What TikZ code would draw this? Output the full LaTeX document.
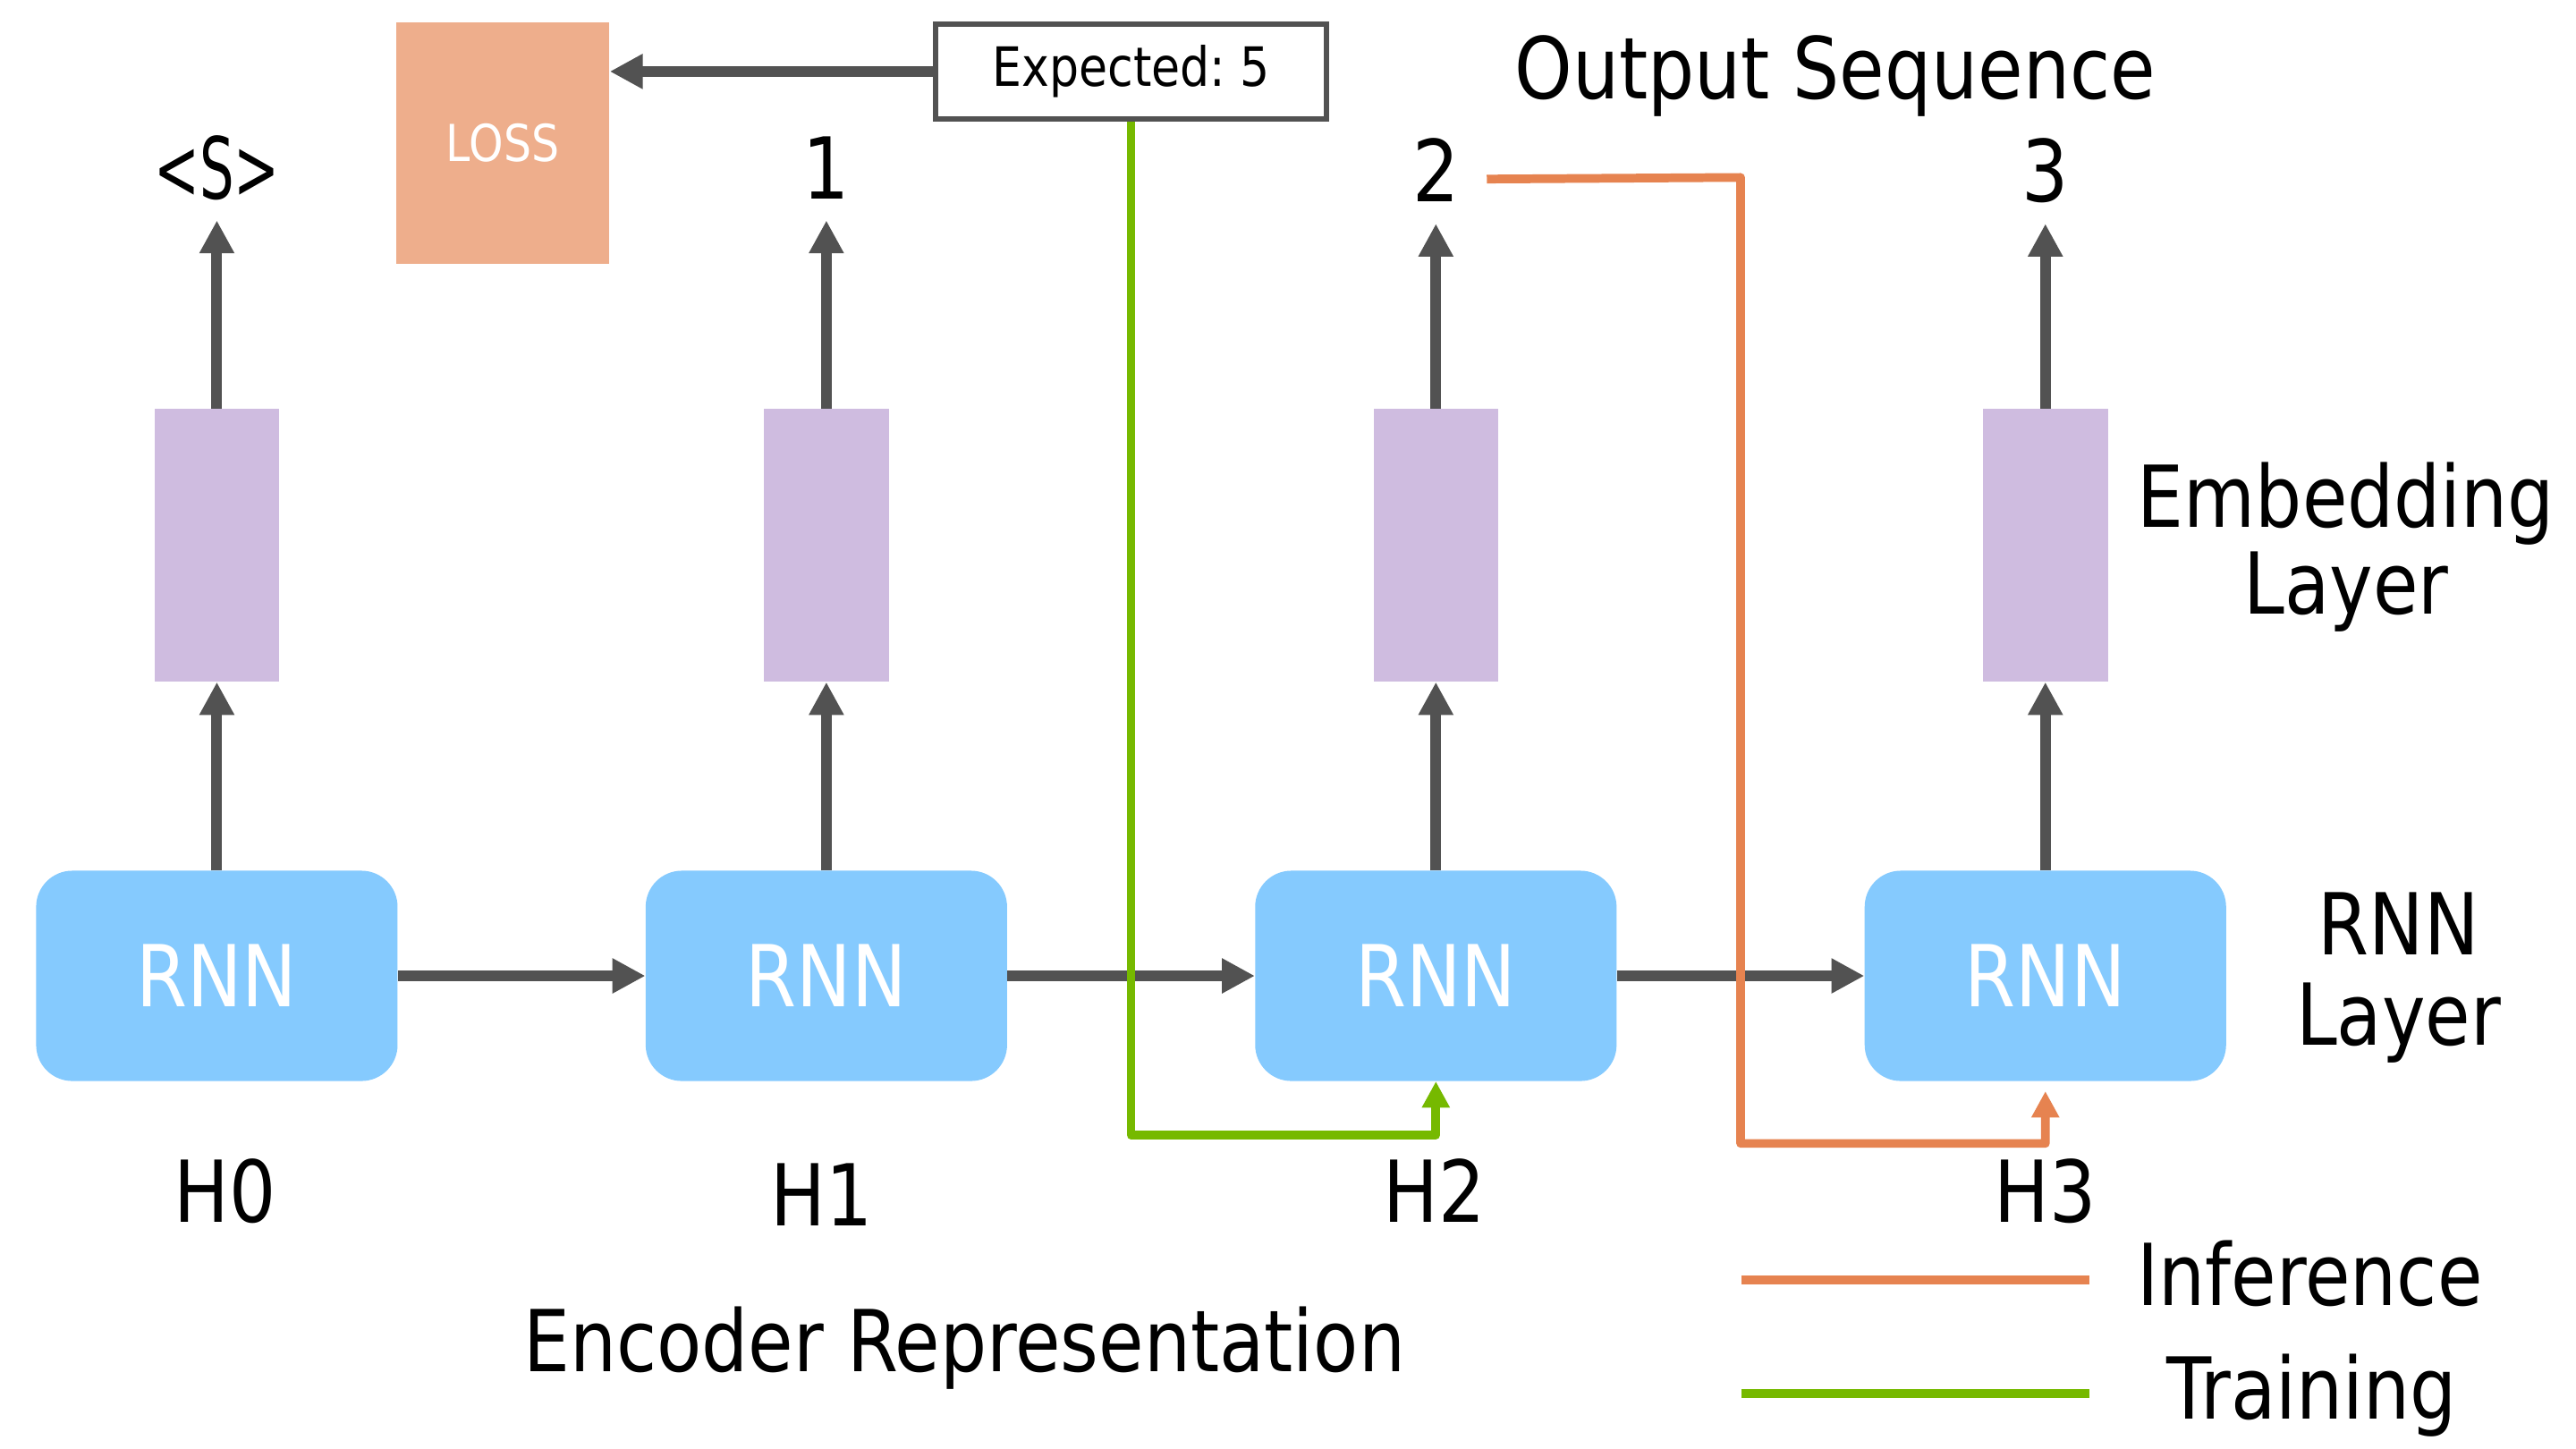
\documentclass[tikz,border=0pt]{standalone}
\usepackage{fontspec}
\setmainfont{DejaVu Sans}[FakeStretch=0.86]
\usetikzlibrary{arrows.meta}
\definecolor{rnnblue}{HTML}{85CAFE}
\definecolor{embpurple}{HTML}{CFBCE0}
\definecolor{losscol}{HTML}{EEAE8C}
\definecolor{darkgray}{HTML}{525252}
\definecolor{nvgreen}{HTML}{76B900}
\definecolor{infor}{HTML}{E68350}
\tikzset{
  rnnbox/.style={rectangle, rounded corners=22pt, fill=rnnblue, draw=none,
    minimum width=220pt, minimum height=128pt, inner sep=0pt,
    text=white, font=\fontsize{52}{60}\selectfont},
  embbox/.style={rectangle, fill=embpurple, draw=none, minimum width=76pt,
    minimum height=166pt, inner sep=0pt},
  biglabel/.style={font=\fontsize{52}{60}\selectfont, inner sep=0pt, anchor=base, text depth=0pt},
  outlabel/.style={font=\fontsize{52}{60}\selectfont, inner xsep=0pt, inner ysep=13pt, anchor=base, text depth=0pt},
  grayarrow/.style={draw=darkgray, line width=6.5pt, -{Triangle[length=20pt,width=20pt]}},
  greenline/.style={draw=nvgreen, line width=5.3pt, line join=round},
  orangeline/.style={draw=infor, line width=5.3pt, line join=round},
  smalltip/.style={-{Triangle[length=16pt,width=16pt]}},
}
\begin{document}
\begin{tikzpicture}[x=1pt, y=-1pt]
\useasboundingbox[fill=white] (0,0) rectangle (1568,882);

% RNN boxes
\node[rnnbox] (r0) at (132,594) {RNN};
\node[rnnbox] (r1) at (503,594) {RNN};
\node[rnnbox] (r2) at (874,594) {RNN};
\node[rnnbox] (r3) at (1245,594) {RNN};

% Embedding boxes
\node[embbox] (e0) at (132,332) {};
\node[embbox] (e1) at (503,332) {};
\node[embbox] (e2) at (874,332) {};
\node[embbox] (e3) at (1245,332) {};

% output labels
\node[outlabel] (o0) at (132,121) {\scalebox{0.74}[1]{<S>}};
\node[outlabel] (o1) at (503,121) {1};
\node[outlabel] (o2) at (874,123) {2};
\node[outlabel] (o3) at (1245,123) {3};

% hidden labels
\node[biglabel] (h0) at (137,744) {H0};
\node[biglabel] (h1) at (500,746) {H1};
\node[biglabel] (h2) at (873,744) {H2};
\node[biglabel] (h3) at (1245,744) {H3};

% Loss and expected
\node[rectangle, fill=losscol, minimum width=130pt, minimum height=147pt, inner sep=0pt,
  text=white, font=\fontsize{31}{36}\selectfont] (loss) at (306,87) {LOSS};
\node[rectangle, draw=darkgray, line width=3.3pt, fill=white, minimum width=238pt,
  minimum height=58pt, inner sep=0pt, font=\fontsize{33}{38}\selectfont] (exp) at (688.5,43.5) {Expected:\kern-0.1em{} 5};

% side labels
\node[biglabel] (outseq) at (1117,60) {Output Sequence};
\node[biglabel] (emb1) at (1428,321) {Embedding};
\node[biglabel] (emb2) at (1428,374) {Layer};
\node[biglabel] (rnnl1) at (1460,581) {RNN};
\node[biglabel] (rnnl2) at (1460,636) {Layer};
\node[biglabel] (encrep) at (587,835) {Encoder Representation};

% vertical arrows
\foreach \i in {0,1,2,3} {
  \draw[grayarrow] (r\i.north) -- (e\i.south);
  \draw[grayarrow] (e\i.north) -- (o\i.south);
}
% horizontal arrows
\draw[grayarrow] (r0.east) -- (r1.west);
\draw[grayarrow] (r1.east) -- (r2.west);
\draw[grayarrow] (r2.east) -- (r3.west);

% expected -> loss
\draw[grayarrow] (exp.west) -- (exp.west -| loss.east);

% training path
\coordinate (gcorner) at (688.5,691);
\draw[greenline, smalltip] (exp.south) -- (gcorner) -| (r2.south);

% inference path
\coordinate (ostart) at (905,109);
\coordinate (otop) at (1059.5,108);
\coordinate (obot) at (1059.5,696);
\draw[orangeline, smalltip, shorten >=6pt] (ostart) -- (otop) -- (obot) -| (r3.south);

% legend
\coordinate (li1) at (1060,779);
\coordinate (li2) at (1272,779);
\coordinate (lg1) at (1060,848);
\coordinate (lg2) at (1272,848);
\draw[infor, line width=5.4pt] (li1) -- (li2);
\draw[nvgreen, line width=5.4pt] (lg1) -- (lg2);
\node[biglabel] (linf) at (1406,794.5) {Inference};
\node[biglabel] (ltrain) at (1407,863.5) {Training};
\end{tikzpicture}
\end{document}
